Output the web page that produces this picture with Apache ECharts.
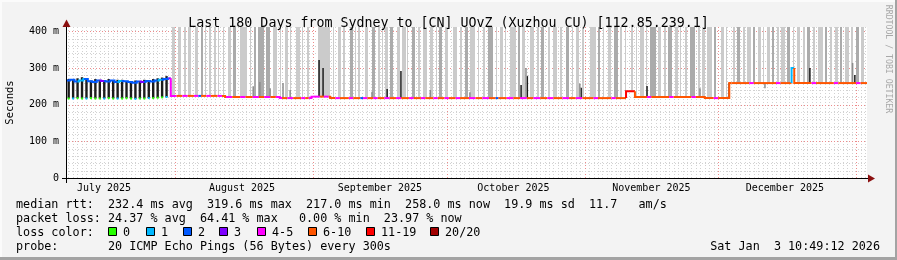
<!DOCTYPE html>
<html><head><meta charset="utf-8">
<script src="https://cdn.jsdelivr.net/npm/echarts@6/dist/echarts.min.js"></script>
<style>html,body{margin:0;padding:0;background:#f3f3f3}#c{width:897px;height:260px}</style>
</head><body><div id="c"></div><script>
// ---------- data (x = days since 2025-07-07 00:00) ----------
const X_MIN = 0.45, X_MAX = 180.45, Y_MAX = 412;
const monthLabels = ['July 2025','August 2025','September 2025','October 2025','November 2025','December 2025'];
const monthLabelDays = [9, 40, 71, 101, 132, 162];
const monthStartDays = [25, 56, 86, 117, 147, 178];
const yTickValues = [0, 100, 200, 300, 400];
const yTickLabels = ['0', '100 m', '200 m', '300 m', '400 m'];
const lossClassLabels = ['0','1','2','3','4-5','6-10','11-19','20/20'];
const lossClassColors = ['#26ff00','#00b8ff','#0059ff','#7e00ff','#ff00ff','#ff5500','#ff0000','#a10000'];

// median rtt (ms), step values starting at given day
const medianDays = [0.45,1.35,2.35,3.35,4.35,5.35,6.35,7.35,8.35,9.35,10.35,11.35,12.35,13.35,14.35,15.35,16.35,17.35,18.35,19.35,20.35,21.35,22.35,23.35,
  24.0,36.2,48.5,55.6,59.8,126.3,128.3,144.0,149.5,163.5,164.1];
const medianMs = [266,268,263,266,270,264,262,266,265,263,266,262,265,264,262,260,263,262,265,263,266,268,270,272,
  224,221,218,222,218,237,221,218,259,300,259];

// loss class of the median line, starting at given day
const lossColorDays = [0.45,3,4.5,8,9,12,13,17,18,21,22,23.5,
  24.0,25.3,26.6,27.8,29.2,30.2,30.8,32.0,33.0,34.5,35.5,36.4,37.8,39.6,40.8,42.4,43.8,45.0,46.4,47.6,49.0,50.2,51.5,53.3,54.2,55.0,
  56.0,57.5,58.4,59.5,61.0,62.0,64.0,65.0,66.6,67.2,68.2,69.5,70.5,72.0,73.2,74.6,75.8,77.5,78.6,80.2,81.2,83.0,84.0,85.5,
  86.5,88.0,89.0,91.0,92.5,94.0,95.5,97.0,97.6,99.5,101.0,102.5,104.0,105.5,107.0,108.6,110.0,112.0,113.5,115.0,
  116.5,119.0,120.0,123.0,124.0,126.3,128.3,131.0,132.0,136.0,137.0,141.0,142.0,146.0,147.0,
  150.0,154.0,155.0,160.0,161.0,163.5,164.1,168.0,169.0,173.0,174.0,178.0,179.0];
const lossColorClass = [2,1,2,3,2,1,2,3,2,1,2,3,
  4,5,4,5,4,2,5,4,5,4,5,4,5,4,5,4,5,4,5,4,5,4,5,4,5,4,
  4,5,4,5,4,5,4,5,2,4,5,4,5,4,5,4,5,4,5,4,5,4,5,4,
  5,4,5,4,5,4,5,2,5,4,5,4,5,4,5,4,5,4,5,4,
  5,4,5,4,5,6,5,4,5,4,5,4,5,4,5,
  5,4,5,4,5,1,5,4,5,4,5,4,5];

// daily July smoke bars
const julyBarDay = [1.05,2.05,3.05,4.05,5.05,6.05,7.05,8.05,9.05,10.05,11.05,12.05,13.05,14.05,15.05,16.05,17.05,18.05,19.05,20.05,21.05,22.05,23.05];
const julyBarHigh = [270,268,272,275,268,266,270,268,266,270,265,268,268,265,263,266,265,268,266,270,272,274,278];
const julyBarLow = [217,217,218,217,217,218,217,217,217,218,217,217,217,218,217,216,217,217,218,218,219,220,221];
const julyLowLoss = [0,1,0,0,1,0,0,0,1,0,0,1,0,0,0,1,0,0,1,0,0,0,1];

// periods with lost pings (smoke to infinity): start day, end day, lost pings
const lossFrom = [24.27,25.62,26.96,27.86,29.44,30.78,31.68,32.58,33.71,34.61,35.73,36.85,37.98,39.55,41.80,42.70,43.60,45.39,46.97,48.54,49.66,50.79,52.14,53.48,54.61,
  57.08,60.45,61.57,62.70,64.27,65.39,66.07,67.64,69.21,70.56,71.46,72.14,73.26,74.83,75.96,77.08,78.20,79.55,80.67,82.25,83.60,84.27,85.62,
  87.42,88.99,90.11,91.24,93.03,94.16,95.28,97.08,97.98,99.10,100.23,102.02,102.92,104.72,106.29,107.19,108.76,109.89,111.46,112.81,114.16,115.06,116.41,
  118.20,120.00,121.12,122.25,123.60,124.94,126.07,127.42,128.54,129.44,130.79,131.69,133.48,134.83,135.73,137.30,138.43,139.55,140.67,142.47,143.37,144.49,146.07,
  147.64,148.76,150.34,151.24,152.58,153.48,154.83,155.96,157.08,157.98,159.10,160.23,161.12,162.47,163.82,164.72,166.07,166.97,168.32,169.44,171.01,172.14,173.26,174.38,175.51,176.85,177.98,179.10];
const lossTo = [24.94,26.29,27.41,28.54,30.11,31.23,31.91,33.03,34.16,34.83,35.95,37.52,38.65,41.12,42.02,43.15,44.94,46.29,47.87,48.76,50.34,51.01,53.04,53.71,55.06,
  59.78,60.67,62.25,63.15,64.94,65.62,66.52,68.31,69.89,71.01,71.69,72.81,73.93,75.50,76.85,77.30,78.88,80.00,81.57,82.92,83.82,84.94,86.29,
  88.31,89.44,90.79,92.36,93.26,94.61,96.40,97.30,98.65,99.33,101.57,102.47,103.60,105.62,106.74,107.87,109.21,110.79,111.91,113.48,114.38,115.73,116.85,
  119.55,120.45,121.35,122.92,124.49,125.39,126.29,127.87,128.76,130.34,131.01,133.03,134.16,135.28,136.63,137.98,138.65,140.00,141.80,142.92,144.04,145.62,146.52,
  148.31,148.99,150.79,151.91,153.03,154.38,155.28,156.63,157.30,158.65,159.55,160.67,162.02,163.15,164.04,165.39,166.52,167.64,168.76,170.56,171.46,172.58,173.93,174.83,176.40,177.30,178.65,179.78];
const lossPings = [1,1,1,1,1,3,1,1,1,1,1,1,3,1,1,3,3,3,1,1,1,1,1,1,1,
  1,1,1,1,3,1,1,1,3,1,1,1,3,1,1,1,3,1,1,1,1,3,1,
  1,1,3,1,1,1,3,1,1,1,1,3,1,1,1,3,1,1,1,3,1,1,1,
  1,3,1,1,3,1,1,1,1,1,1,3,1,1,3,1,1,1,3,1,1,1,3,
  1,1,1,3,1,1,3,1,1,1,3,1,1,3,1,1,1,3,1,1,3,1,1,3,1,1,3,1];

// smoke spikes above the median
const spikeDay = [57.3,58.2,72.6,75.7,102.7,104.1,116.2,131.0,167.6,177.7,149.45,42.5,44.0,49.2,50.8,46.3,69.2,82.3,91.2,103.8,115.9,142.9,157.5,177.2];
const spikeTop = [322,300,243,292,254,278,246,251,300,281,259,250,262,259,240,245,235,240,234,300,258,245,245,314];
const spikeDense = [1,1,1,1,1,1,1,1,1,1,1,0,0,0,0,0,0,0,0,0,0,0,0,0];

// ---------- helpers ----------
function medianAt(d){let v=medianMs[0];for(let i=0;i<medianDays.length;i++){if(medianDays[i]<=d)v=medianMs[i];else break;}return v;}
function stepPoints(a, b){
  const pts = [[a, medianAt(a - 1e-6)]];
  for (let i = 1; i < medianDays.length; i++) {
    const d = medianDays[i];
    if (d >= a && d < b) { pts.push([d, medianMs[i - 1]]); pts.push([d, medianMs[i]]); }
  }
  pts.push([b, medianAt(b - 1e-6)]);
  return pts;
}
const MONO = '"DejaVu Sans Mono", monospace';

const gridData = [];
for (let d = Math.ceil(X_MIN); d <= Math.floor(X_MAX); d++) gridData.push([d, monthStartDays.includes(d) ? 1 : 0, 1]);
for (let v = 20; v <= 400; v += 20) gridData.push([v, v % 100 === 0 ? 1 : 0, 0]);

const lossSegs = lossColorDays.map((d, i) => [d, (i + 1 < lossColorDays.length ? lossColorDays[i + 1] : X_MAX), lossColorClass[i]]);

const chart = echarts.init(document.getElementById('c'), null, {width: 897, height: 260});

const graphic = [];
graphic.push({type:'rect', shape:{x:0,y:0,width:897,height:2}, style:{fill:'#fbfbfb'}, silent:true});
graphic.push({type:'rect', shape:{x:0,y:0,width:2,height:260}, style:{fill:'#fbfbfb'}, silent:true});
graphic.push({type:'rect', shape:{x:0,y:257,width:897,height:3}, style:{fill:'#a3a3a3'}, silent:true});
graphic.push({type:'rect', shape:{x:895,y:0,width:2,height:260}, style:{fill:'#a3a3a3'}, silent:true});
graphic.push({type:'line', shape:{x1:62,y1:178.5,x2:869,y2:178.5}, style:{stroke:'#000',lineWidth:1}, z:50});
graphic.push({type:'line', shape:{x1:66.5,y1:183,x2:66.5,y2:24}, style:{stroke:'#000',lineWidth:1}, z:50});
graphic.push({type:'polygon', shape:{points:[[868,174.5],[875,178.5],[868,182.5]]}, style:{fill:'#8b1010'}, z:51});
graphic.push({type:'polygon', shape:{points:[[62.5,27],[66.5,19.5],[70.5,27]]}, style:{fill:'#8b1010'}, z:51});
function txt(s, x, y, opt){graphic.push(Object.assign({type:'text', x:x, y:y, style:Object.assign({text:s, fill:'#000', font:'11.75px ' + MONO, align:'left', verticalAlign:'middle'}, opt||{}), z:60}));}
txt('median rtt:  232.4 ms avg  319.6 ms max  217.0 ms min  258.0 ms now  19.9 ms sd  11.7   am/s', 16, 204.5);
txt('packet loss: 24.37 % avg  64.41 % max   0.00 % min  23.97 % now', 16, 218.5);
txt('loss color:', 16, 232.5);
const boxX = [108, 146, 183, 219, 257, 308, 366, 430];
lossClassLabels.forEach((l, i) => {
  graphic.push({type:'rect', shape:{x:boxX[i] + 0.5, y:227.5, width:8, height:8}, style:{fill:lossClassColors[i], stroke:'#000', lineWidth:1}, z:60});
  txt(l, boxX[i] + 15, 232.5);
});
txt('probe:       20 ICMP Echo Pings (56 Bytes) every 300s', 16, 246.5);
txt('Sat Jan  3 10:49:12 2026', 880, 246.5, {align:'right'});
graphic.push({type:'text', x:888.5, y:59, rotation:-Math.PI/2, style:{text:'RRDTOOL / TOBI OETIKER', fill:'#a8a8a8', font:'8.2px ' + MONO, align:'center', verticalAlign:'middle'}, z:60});

const option = {
  animation: false,
  backgroundColor: '#f3f3f3',
  title: {text: 'Last 180 Days from Sydney to [CN] UOvZ (Xuzhou CU) [112.85.239.1]', left: 'center', top: 12,
    textStyle: {fontFamily: MONO, fontSize: 13.3, fontWeight: 'normal', color: '#000'}},
  grid: {left: 66, top: 27, width: 801, height: 151, show: true, backgroundColor: '#ffffff', borderWidth: 0, containLabel: false, outerBoundsMode: 'none'},
  xAxis: {type: 'value', min: X_MIN, max: X_MAX, splitLine: {show: false}, axisLine: {show: false}, axisTick: {show: false},
    axisLabel: {customValues: monthLabelDays, formatter: v => monthLabels[monthLabelDays.indexOf(v)] || '', fontFamily: MONO, fontSize: 10, color: '#000', margin: 5}},
  yAxis: {type: 'value', min: 0, max: Y_MAX, splitLine: {show: false}, axisLine: {show: false}, axisTick: {show: false},
    name: 'Seconds', nameLocation: 'middle', nameRotate: 90, nameGap: 50, nameTextStyle: {fontFamily: MONO, fontSize: 10.5, color: '#000'},
    axisLabel: {customValues: yTickValues, formatter: v => yTickLabels[yTickValues.indexOf(v)] || '', fontFamily: MONO, fontSize: 10, color: '#000', margin: 7}},
  graphic: graphic,
  series: [
    { // grid
      type: 'custom', z: 1, clip: true, silent: true,
      data: gridData, encode: {x: 0, y: 0},
      renderItem: (p, api) => {
        const pos = api.value(0), major = api.value(1), vert = api.value(2);
        let a, b;
        if (vert) { a = api.coord([pos, 0]); b = api.coord([pos, Y_MAX]); const x = Math.round(a[0]) + 0.5; a = [x, a[1]]; b = [x, b[1]]; }
        else { a = api.coord([X_MIN, pos]); b = api.coord([X_MAX, pos]); const y = Math.round(a[1]) + 0.5; a = [a[0], y]; b = [b[0], y]; }
        return {type: 'line', shape: {x1: a[0], y1: a[1], x2: b[0], y2: b[1]},
          style: {stroke: major ? '#ec8c8c' : '#d2d2d2', lineWidth: 1, lineDash: [1, 2]}};
      }
    },
    { // loss smoke bars
      type: 'custom', z: 2, clip: true, silent: true,
      data: lossFrom.map((f, i) => [f, lossTo[i], lossPings[i]]),
      encode: {x: [0, 1], y: 2},
      renderItem: (p, api) => {
        const a = api.value(0), b = api.value(1), n = api.value(2);
        const p0 = api.coord([a, medianAt((a + b) / 2)]);
        const p1 = api.coord([b, Y_MAX]);
        return {type: 'rect', shape: {x: Math.round(p0[0]), y: p1[1], width: Math.max(1, Math.round(p1[0] - p0[0])), height: p0[1] - p1[1]},
          style: {fill: n >= 3 ? '#ababab' : '#cbcbcb'}};
      }
    },
    { // July smoke bars
      type: 'custom', z: 3, clip: true, silent: true,
      data: julyBarDay.map((d, i) => [d, julyBarLow[i], julyBarHigh[i], julyLowLoss[i]]),
      encode: {x: 0, y: [1, 2]},
      renderItem: (p, api) => {
        const d = api.value(0), lo = api.value(1), hi = api.value(2), c = api.value(3);
        const p0 = api.coord([d - 0.27, lo]); const p1 = api.coord([d + 0.27, hi]);
        const cx = (p0[0] + p1[0]) / 2;
        return {type: 'group', children: [
          {type: 'rect', shape: {x: p0[0], y: p1[1], width: p1[0] - p0[0], height: p0[1] - p1[1]}, style: {fill: '#1c1c1c'}},
          {type: 'rect', shape: {x: cx - 1, y: p0[1] - 1, width: 2, height: 2}, style: {fill: lossClassColors[c]}}
        ]};
      }
    },
    { // smoke spikes
      type: 'custom', z: 3, clip: true, silent: true,
      data: spikeDay.map((d, i) => [d, spikeTop[i], spikeDense[i]]),
      encode: {x: 0, y: 1},
      renderItem: (p, api) => {
        const d = api.value(0), top = api.value(1), dense = api.value(2);
        const p0 = api.coord([d - 0.15, medianAt(d - 0.2)]); const p1 = api.coord([d + 0.15, top]);
        return {type: 'rect', shape: {x: p0[0], y: p1[1], width: Math.max(1.5, p1[0] - p0[0]), height: p0[1] - p1[1]},
          style: {fill: dense ? '#1c1c1c' : '#8c8c8c'}};
      }
    },
    { // median line, coloured by packet loss
      type: 'custom', z: 4, clip: true, silent: true,
      data: lossSegs, encode: {x: [0, 1], y: 2},
      renderItem: (p, api) => {
        const a = api.value(0), b = api.value(1), c = api.value(2);
        const pts = stepPoints(a, b).map(q => api.coord(q));
        return {type: 'polyline', shape: {points: pts}, style: {stroke: lossClassColors[c], lineWidth: 2, fill: null}};
      }
    }
  ]
};
chart.setOption(option);
</script></body></html>
